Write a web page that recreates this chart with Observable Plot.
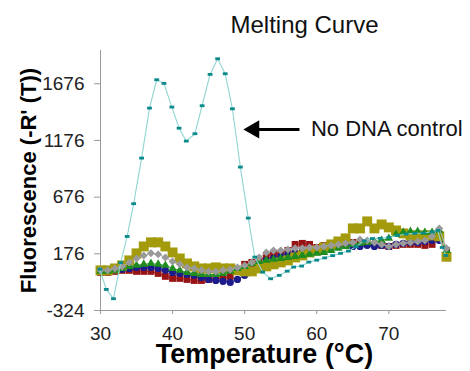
<!DOCTYPE html>
<html><head><meta charset="utf-8">
<script src="https://cdn.jsdelivr.net/npm/d3@7"></script>
<script src="https://cdn.jsdelivr.net/npm/@observablehq/plot@0.6"></script>
<style>body{margin:0;background:#fff;font-family:"Liberation Sans",Arial,sans-serif}</style>
</head><body><div id="chart"></div>
<script>
const temps = [30,31,32,33,34,35,36,37,38,39,40,41,42,43,44,45,46,47,48,49,50,51,52,53,54,55,56,57,58,59,60,61,62,63,64,65,66,67,68,69,70,71,72,73,74,75,76,77,78];
const redSeries = [12,12,21,30,30,21,21,21,3,-23,-41,-41,-50,-59,-59,-50,-41,-41,-23,21,83,100,118,153,180,180,206,259,268,259,232,250,259,268,268,276,276,268,259,250,241,250,259,259,259,250,259,312,206];
const blueSeries = [21,21,30,38,47,56,56,56,47,30,12,3,-6,-14,-32,-50,-59,-67,-76,-50,-14,47,83,118,135,153,171,188,197,206,215,224,232,241,250,241,241,250,241,250,241,259,268,276,276,285,294,294,188];
const oliveSeries = [30,30,47,74,118,180,241,277,277,241,188,135,91,65,47,47,56,47,47,30,21,21,47,65,83,100,118,144,162,188,206,232,259,285,312,400,400,462,400,435,409,382,356,338,338,338,338,330,150];
const greenSeries = [21,21,30,47,65,74,83,91,83,74,47,30,12,3,-6,-6,-6,3,21,47,65,91,109,118,127,135,144,153,162,171,180,188,206,224,241,259,268,276,285,294,312,347,365,373,373,365,365,382,206];
const graySeries = [30,30,47,65,100,135,162,180,171,144,109,83,56,47,30,21,21,30,38,56,74,100,144,188,206,206,215,224,224,232,232,241,250,259,268,276,303,294,276,259,241,259,268,276,285,294,330,400,224];
const noDnaTemps = [29.9,30.8,31.8,32.8,33.7,34.6,35.7,36.8,37.8,38.8,39.9,40.9,41.9,43.1,44.1,45.2,46.25,47.3,48.3,49.4,50.5,51.4,52.5,53.6,54.8,55.9,56.8,57.9,58.9,60.0,61.1,62.2,63.3,64.4,65.5,66.6,67.7,68.8,70.0,71.2,72.4,73.6,74.8,76.0,76.8,77.4,77.9];
const noDnaSeries = [40,-138,-220,98,329,618,1020,1461,1711,1679,1470,1284,1170,1235,1482,1758,1896,1764,1455,941,491,147,15,-44,-14,23,59,68,103,120,140,160,180,200,240,290,310,312,321,338,350,356,360,370,382,232,162];
const xTicks = [30,40,50,60,70];
const yTicks = [-324,176,676,1176,1676];
const titleText = ["Melting Curve"];
const xLabel = ["Temperature (°C)"];
const yLabel = ["Fluorescence (-R' (T))"];
const annotation = [{x1: 57.6, x2: 51.0, xTip: 49.9, xText: 59.2, y: 1273, text: "No DNA control"}];

const dash = {draw(ctx, size){ const s = Math.sqrt(size); const w = s*1.35, h = s*0.8; ctx.rect(-w/2,-h/2,w,h); }};

const rows = (vals, xs = temps) => vals.map((v,i) => ({t: xs[i], v}));
const red = rows(redSeries), blue = rows(blueSeries), olive = rows(oliveSeries),
      green = rows(greenSeries), gray = rows(graySeries), noDna = rows(noDnaSeries, noDnaTemps);

const series = [
  {data: red, color: "#981414", line: "#b04040", symbol: "square", r: 3.9},
  {data: blue, color: "#1c1c8c", line: "#4040a0", symbol: "circle", r: 3.6},
  {data: olive, color: "#a39a0c", line: "#b8b040", symbol: "square", r: 5.6},
  {data: green, color: "#1e8c1e", line: "#40a040", symbol: "triangle", r: 3.2},
  {data: gray, color: "#9a9a9a", line: "#b0b0b0", symbol: "diamond2", r: 3.6},
];

const marks = [
  Plot.ruleX([30], {stroke: "#999", strokeWidth: 1}),
  Plot.ruleY([-324], {stroke: "#999", strokeWidth: 1}),
  Plot.axisX({ticks: xTicks, tickFormat: d => String(d), tickSize: 4, tickPadding: 12, fontSize: 19, stroke: "#999", fill: "#222", label: null}),
  Plot.axisY({ticks: yTicks, tickFormat: d => String(d), tickSize: 6, tickPadding: 10, fontSize: 19, stroke: "#999", fill: "#222", label: null}),
];
for (const s of series) {
  marks.push(Plot.line(s.data, {x: "t", y: "v", stroke: s.line, strokeWidth: 1}));
  marks.push(Plot.dot(s.data, {x: "t", y: "v", symbol: s.symbol, r: s.r, fill: s.color, stroke: "none"}));
}
marks.push(Plot.line(noDna, {x: "t", y: "v", stroke: "#8fd4d4", strokeWidth: 1.1}));
marks.push(Plot.dot(noDna, {x: "t", y: "v", symbol: dash, r: 2, fill: "#0a8a8a", stroke: "none"}));
// annotation arrow
marks.push(Plot.link(annotation, {x1: "x1", x2: "x2", y1: "y", y2: "y", stroke: "#000", strokeWidth: 3}));
marks.push(Plot.dot(annotation, {x: "xTip", y: "y", symbol: "triangle", rotate: -90, r: 6.8, dx: 10, fill: "#000", stroke: "none"}));
marks.push(Plot.text(annotation, {x: "xText", y: "y", text: "text", textAnchor: "start", fontSize: 22, fill: "#111"}));
// titles
marks.push(Plot.text(titleText, {frameAnchor: "top", text: d => d, textAnchor: "middle", lineAnchor: "middle", dx: 31, dy: -25, fontSize: 24, fill: "#111"}));
marks.push(Plot.text(xLabel, {frameAnchor: "bottom", text: d => d, textAnchor: "middle", lineAnchor: "middle", dx: -9, dy: 44, fontSize: 27, fontWeight: "bold", fill: "#000"}));
marks.push(Plot.text(yLabel, {frameAnchor: "left", text: d => d, textAnchor: "middle", lineAnchor: "middle", rotate: -90, dx: -72, fontSize: 22, fontWeight: "bold", fill: "#000"}));

const chart = Plot.plot({
  width: 470, height: 371,
  marginLeft: 100, marginRight: 24, marginTop: 50, marginBottom: 61,
  x: {domain: [30, 78]},
  y: {domain: [-324, 1969]},
  style: {fontFamily: "'Liberation Sans', Arial, sans-serif", background: "#fff", overflow: "visible"},
  marks
});
document.getElementById("chart").appendChild(chart);
</script></body></html>
